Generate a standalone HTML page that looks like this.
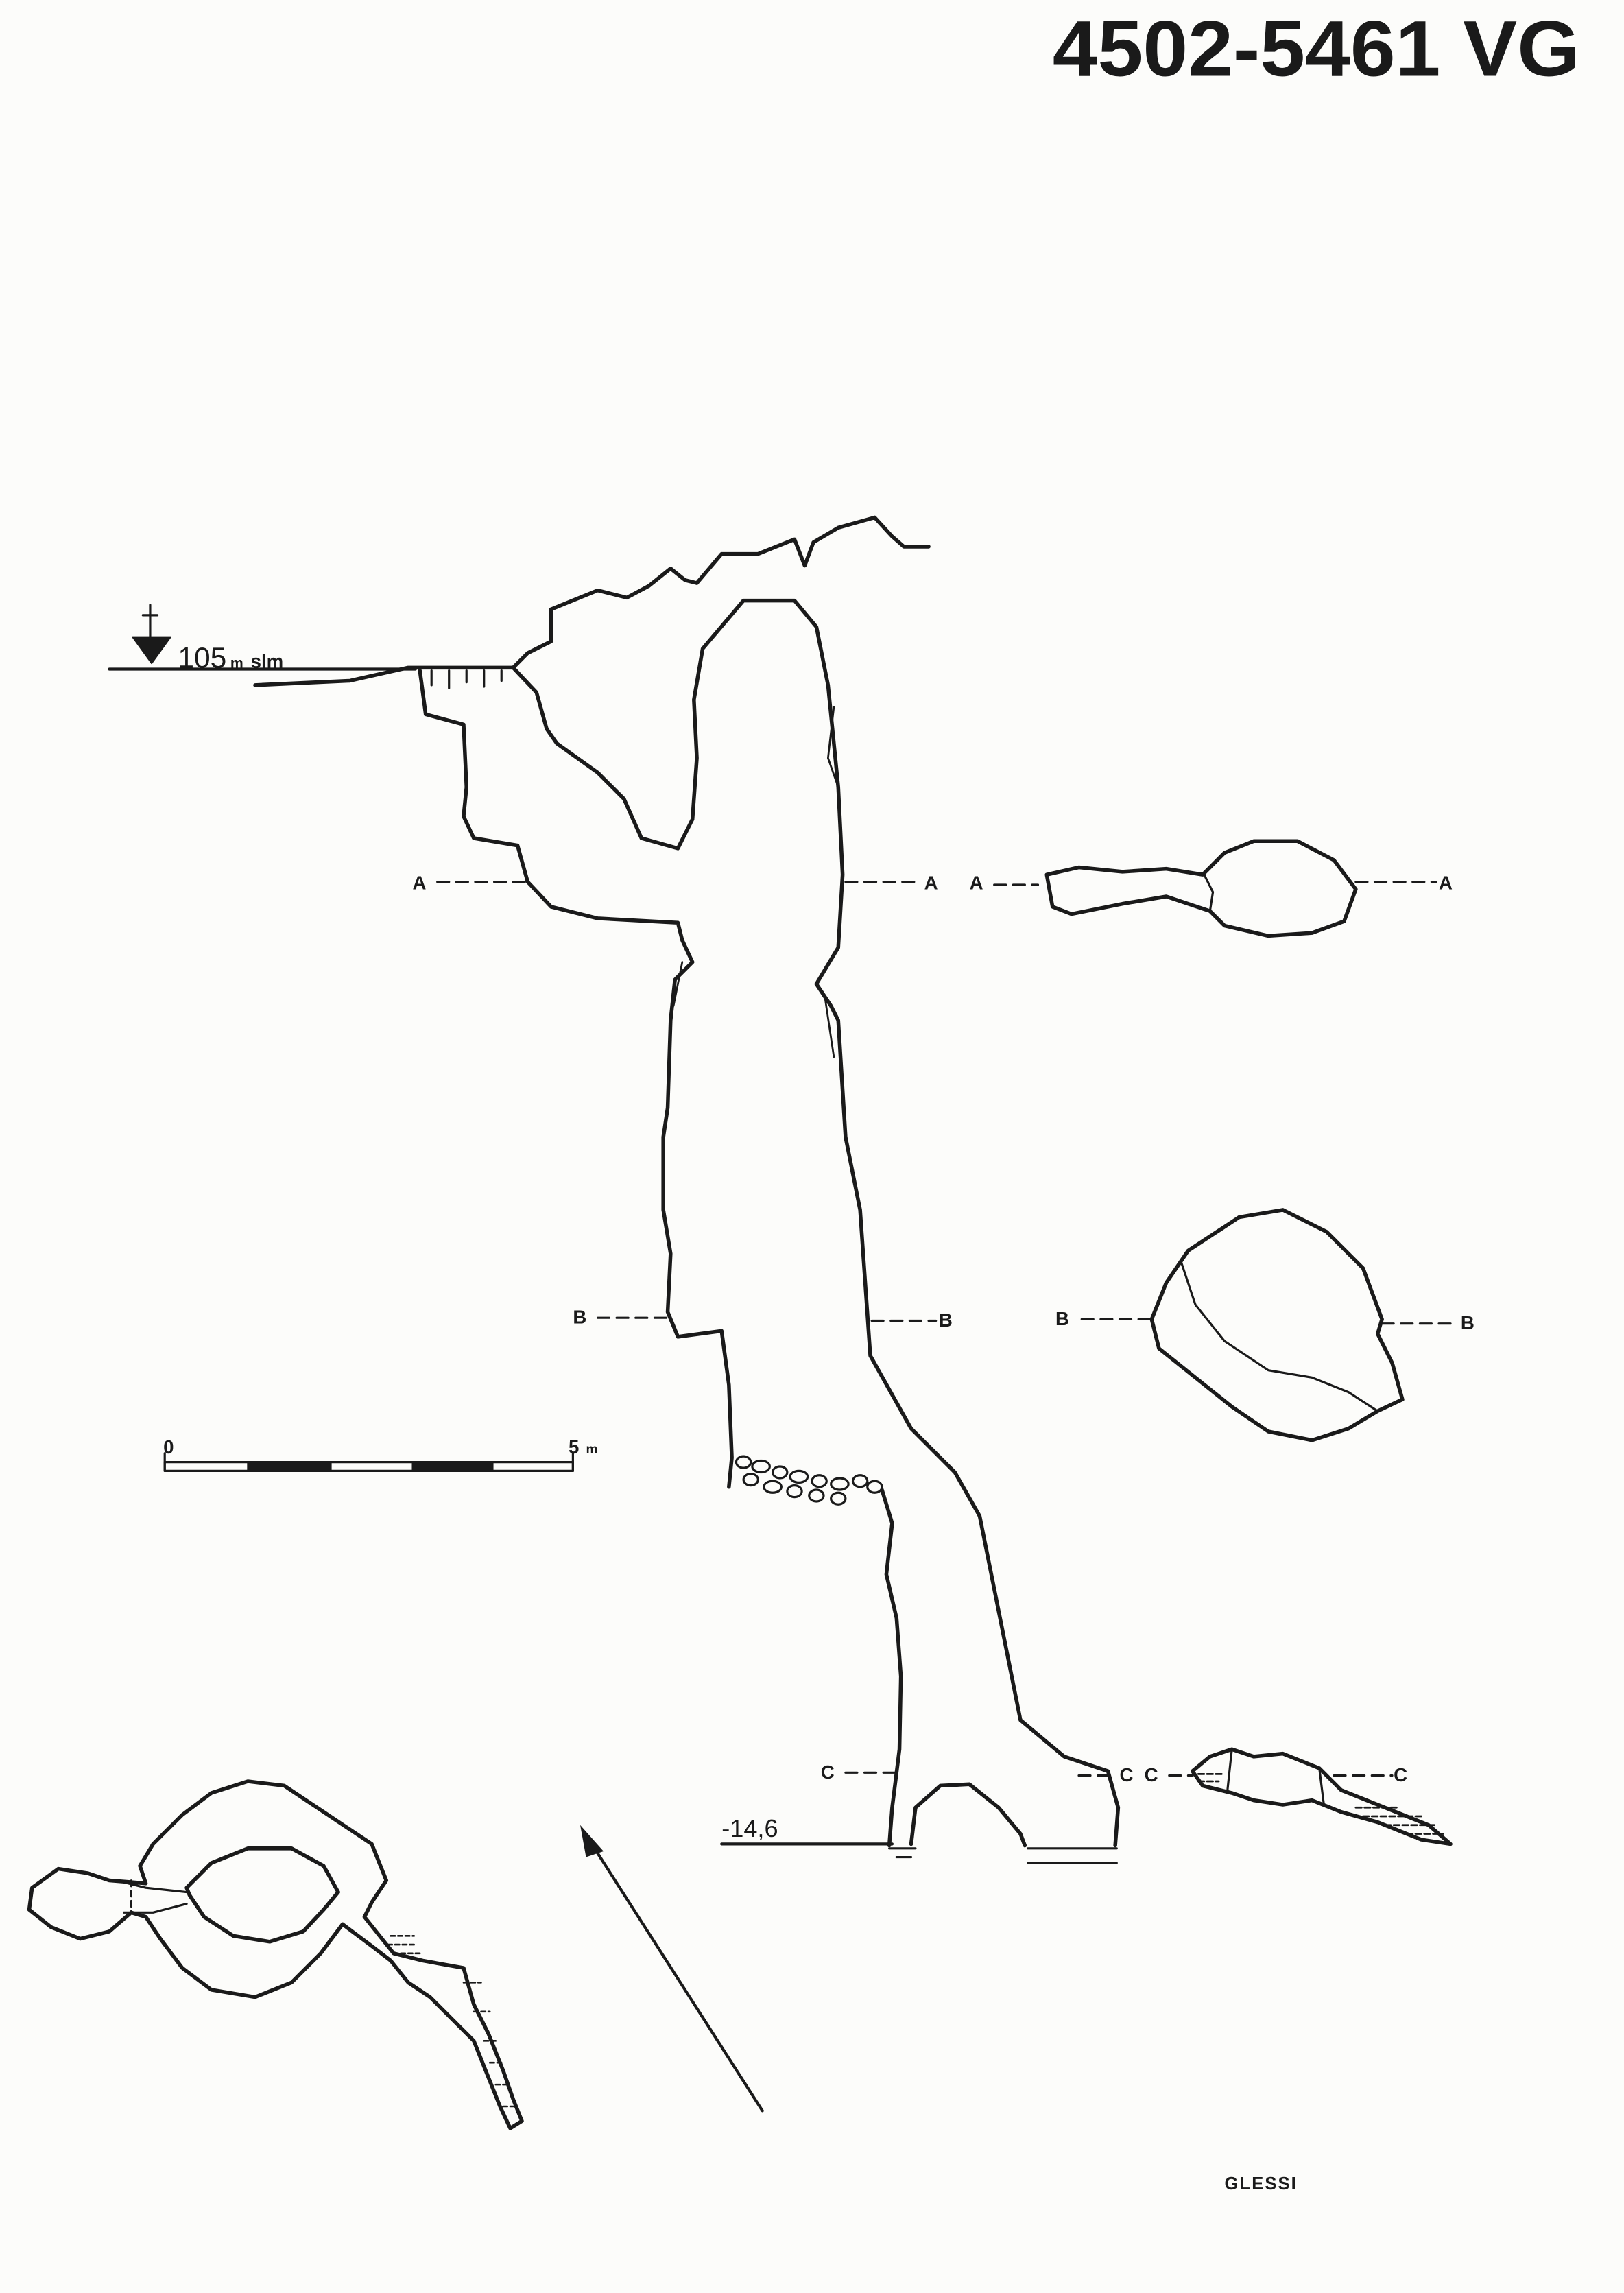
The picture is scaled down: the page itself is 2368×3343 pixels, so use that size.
<!DOCTYPE html>
<html><head><meta charset="utf-8"><style>
html,body{margin:0;padding:0;background:#fcfcfa;overflow:hidden;}
svg{display:block;}
text{font-family:"Liberation Sans",sans-serif;fill:#1a1a1a;}
</style></head><body>
<svg width="2368" height="3343" viewBox="0 0 1114 1573" preserveAspectRatio="none" xmlns="http://www.w3.org/2000/svg">
<rect width="1114" height="1573" fill="#fcfcfa"/>
<text x="722" y="52" font-size="54" font-weight="bold" textLength="362" lengthAdjust="spacingAndGlyphs">4502-5461 VG</text>
<g fill="none" stroke="#1a1a1a" stroke-width="2.6" stroke-linejoin="round" stroke-linecap="round">
<line x1="75" y1="459" x2="285" y2="459" stroke-width="2"/>
<line x1="103" y1="415" x2="103" y2="437" stroke-width="1.5"/>
<line x1="98" y1="422" x2="108" y2="422" stroke-width="1.5"/>
<path d="M91,437 L117,437 L104,455 Z" fill="#1a1a1a" stroke-width="1"/>
<path d="M175,470 L240,467 L280,458 L290,458 L352,458 L362,448 L378,440 L378,418 L410,405 L430,410 L445,402 L460,390 L470,398 L478,400 L495,380 L520,380 L545,370 L552,388 L558,372 L575,362 L600,355 L612,368 L620,375 L637,375"/>
<path d="M296,460 L296,470 M308,460 L308,472 M320,460 L320,468 M332,460 L332,471 M344,460 L344,467" stroke-width="1.5"/>
<path d="M288,460 L292,490 L318,497 L320,540 L318,560 L325,575 L355,580 L362,605 L378,622 L410,630 L465,633 L468,645 L475,660 L463,672 L460,700 L458,760 L455,780 L455,830 L460,860 L458,900 L465,917 L495,913 L500,950 L502,1000 L500,1020"/>
<path d="M605,1022 L612,1045 L608,1080 L615,1110 L618,1150 L617,1200 L612,1240 L610,1266"/>
<path d="M352,458 L368,475 L375,500 L382,510 L410,530 L428,548 L440,575 L465,582 L475,562 L478,520 L476,480 L482,445 L510,412 L545,412 L560,430 L568,470 L575,540 L578,600 L575,650 L560,675 L570,690 L575,700 L580,780 L590,830 L597,930 L625,980 L655,1010 L672,1040 L690,1130 L700,1180 L730,1205 L760,1215 L767,1240 L765,1266"/>
<path d="M572,485 L568,520 L575,540" stroke-width="1.3"/>
<path d="M468,660 L462,690 M566,685 L572,725" stroke-width="1.3"/>
<path d="M625,1265 L628,1240 L645,1225 L665,1224 L685,1240 L700,1258 L703,1266"/>
<path d="M610,1268 L628,1268 M615,1274 L625,1274 M705,1268 L766,1268 M705,1278 L766,1278" stroke-width="1.5"/>
<line x1="495" y1="1265" x2="612" y2="1265" stroke-width="2"/>
<g stroke-width="1.5">
<ellipse cx="510" cy="1003" rx="5" ry="4"/><ellipse cx="522" cy="1006" rx="6" ry="4"/><ellipse cx="535" cy="1010" rx="5" ry="4"/><ellipse cx="548" cy="1013" rx="6" ry="4"/><ellipse cx="562" cy="1016" rx="5" ry="4"/><ellipse cx="576" cy="1018" rx="6" ry="4"/><ellipse cx="590" cy="1016" rx="5" ry="4"/><ellipse cx="515" cy="1015" rx="5" ry="4"/><ellipse cx="530" cy="1020" rx="6" ry="4"/><ellipse cx="545" cy="1023" rx="5" ry="4"/><ellipse cx="560" cy="1026" rx="5" ry="4"/><ellipse cx="575" cy="1028" rx="5" ry="4"/><ellipse cx="600" cy="1020" rx="5" ry="4"/>
</g>
<g stroke-width="1.5" stroke-dasharray="8,5">
<line x1="300" y1="605" x2="360" y2="605"/><line x1="580" y1="605" x2="632" y2="605"/>
<line x1="682" y1="607" x2="712" y2="607"/><line x1="930" y1="605" x2="985" y2="605"/>
<line x1="410" y1="904" x2="460" y2="904"/><line x1="598" y1="906" x2="642" y2="906"/>
<line x1="742" y1="905" x2="790" y2="905"/><line x1="948" y1="908" x2="1000" y2="908"/>
<line x1="580" y1="1216" x2="615" y2="1216"/><line x1="740" y1="1218" x2="766" y2="1218"/>
<line x1="802" y1="1218" x2="818" y2="1218"/><line x1="915" y1="1218" x2="955" y2="1218"/>
</g>
<path d="M718,600 L740,595 L770,598 L800,596 L825,600 L840,585 L860,577 L890,577 L915,590 L930,610 L922,632 L900,640 L870,642 L840,635 L830,625 L800,615 L770,620 L735,627 L722,622 Z"/>
<path d="M826,600 L832,612 L830,625" stroke-width="1.5"/>
<path d="M815,858 L850,835 L880,830 L910,845 L935,870 L948,905 L945,915 L955,935 L962,960 L945,968 L925,980 L900,988 L870,982 L845,965 L820,945 L795,925 L790,905 L800,880 Z"/>
<path d="M810,865 L820,895 L840,920 L870,940 L900,945 L925,955 L945,968" stroke-width="1.5"/>
<path d="M818,1215 L830,1205 L845,1200 L860,1205 L880,1203 L905,1213 L920,1228 L950,1240 L980,1252 L995,1265 L975,1262 L945,1250 L920,1243 L900,1235 L880,1238 L860,1235 L845,1230 L825,1225 Z"/>
<path d="M845,1200 L842,1228 M905,1213 L908,1237" stroke-width="1.5"/>
<path d="M822,1217 L838,1217 M822,1222 L836,1222 M930,1240 L960,1240 M935,1246 L975,1246 M950,1252 L985,1252 M965,1258 L990,1258" stroke-width="1.3" stroke-dasharray="4,2"/>
<rect x="113" y="1003" width="280" height="6" stroke-width="1.5"/>
<rect x="170" y="1003" width="57" height="6" fill="#1a1a1a" stroke-width="1"/>
<rect x="283" y="1003" width="55" height="6" fill="#1a1a1a" stroke-width="1"/>
<line x1="113" y1="997" x2="113" y2="1009" stroke-width="1.5"/>
<line x1="393" y1="997" x2="393" y2="1009" stroke-width="1.5"/>
<g transform="translate(0,-300)">
<path d="M100,1592 L96,1580 L105,1565 L125,1545 L145,1530 L170,1522 L195,1525 L225,1545 L255,1565 L265,1590 L255,1605 L250,1615 L262,1630 L270,1640 L290,1645 L318,1650 L325,1675 L335,1695 L345,1720 L352,1740 L358,1755 L350,1760 L343,1745 L335,1725 L325,1700 L310,1685 L295,1670 L280,1660 L268,1645 L255,1635 L235,1620 L220,1640 L200,1660 L175,1670 L145,1665 L125,1650 L110,1630 L100,1615 L90,1612 L75,1625 L55,1630 L35,1622 L20,1610 L22,1595 L40,1582 L60,1585 L75,1590 Z"/>
<path d="M128,1595 L145,1578 L170,1568 L200,1568 L222,1580 L232,1598 L222,1610 L208,1625 L185,1632 L160,1628 L140,1615 L130,1600 Z"/>
<path d="M80,1590 L100,1595 L128,1598 M85,1612 L105,1612 L128,1606" stroke-width="1.5"/>
<path d="M90,1590 L90,1612" stroke-width="1.3" stroke-dasharray="4,3"/>
<path d="M268,1628 L284,1628 M266,1634 L286,1634 M270,1640 L288,1640 M318,1660 L330,1660 M325,1680 L336,1680 M332,1700 L342,1700 M336,1715 L346,1715 M340,1730 L350,1730 M345,1745 L355,1745" stroke-width="1.2" stroke-dasharray="3,2"/>
</g>
<line x1="523" y1="1448" x2="404" y2="1262" stroke-width="2"/>
</g>
<path d="M398,1252 L414,1270 L402,1274 Z" fill="#1a1a1a"/>
<g font-size="13" font-weight="bold">
<text x="283" y="610">A</text><text x="634" y="610">A</text>
<text x="665" y="610">A</text><text x="987" y="610">A</text>
<text x="393" y="908">B</text><text x="644" y="910">B</text>
<text x="724" y="909">B</text><text x="1002" y="912">B</text>
<text x="563" y="1220">C</text><text x="768" y="1222">C</text>
<text x="785" y="1222">C</text><text x="956" y="1222">C</text>
<text x="112" y="997">0</text><text x="390" y="997">5</text>
</g>
<text x="402" y="997" font-size="9" font-weight="bold">m</text>
<text x="122" y="458" font-size="20">105</text>
<text x="158" y="458" font-size="10" font-weight="bold">m</text>
<text x="172" y="458" font-size="13" font-weight="bold">slm</text>
<text x="495" y="1260" font-size="17">-14,6</text>
<text x="840" y="1502" font-size="12" font-weight="bold" letter-spacing="1">GLESSI</text>
</svg>
</body></html>
